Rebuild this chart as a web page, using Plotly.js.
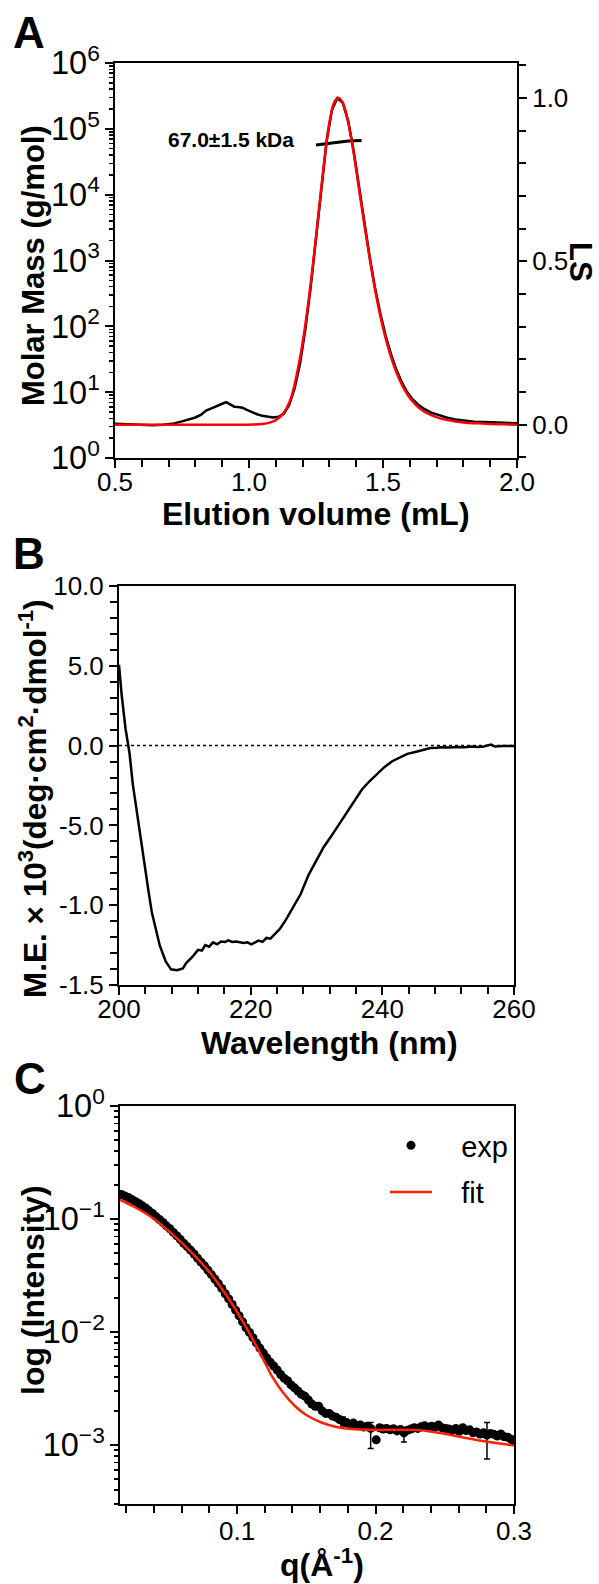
<!DOCTYPE html>
<html><head><meta charset="utf-8">
<script src="https://cdn.plot.ly/plotly-3.0.1.min.js"></script>
<style>html,body{margin:0;padding:0;background:#fff;}#chart{width:599px;height:1584px;}</style>
</head><body><div id="chart"></div>
<script>
// ---------- Panel A: SEC-MALS ----------
const elutionVolLS = [0.50,0.55,0.60,0.64,0.68,0.72,0.75,0.78,0.80,0.82,0.84,0.86,0.88,0.90,0.915,0.93,0.945,0.96,0.975,0.99,1.01,1.03,1.05,1.07,1.09,1.11,1.13,1.15,1.17,1.19,1.21,1.23,1.25,1.27,1.29,1.31,1.33,1.35,1.37,1.39,1.41,1.43,1.45,1.47,1.49,1.51,1.53,1.55,1.57,1.59,1.61,1.63,1.65,1.68,1.71,1.74,1.77,1.80,1.84,1.88,1.92,1.96,2.00];
const lsSignal = [0.003,0.002,0.001,-0.002,0.000,0.004,0.010,0.018,0.022,0.030,0.043,0.050,0.058,0.064,0.069,0.062,0.055,0.054,0.052,0.046,0.038,0.032,0.027,0.024,0.022,0.024,0.033,0.060,0.110,0.185,0.290,0.420,0.570,0.730,0.870,0.965,1.000,0.985,0.930,0.840,0.730,0.620,0.515,0.420,0.340,0.272,0.215,0.168,0.130,0.100,0.078,0.062,0.050,0.037,0.028,0.021,0.016,0.012,0.009,0.008,0.007,0.005,0.004];
const elutionVolFit = [0.50,0.70,0.90,1.00,1.05,1.08,1.10,1.12,1.14,1.16,1.18,1.20,1.22,1.24,1.26,1.28,1.30,1.32,1.335,1.35,1.37,1.39,1.41,1.43,1.45,1.47,1.49,1.51,1.53,1.55,1.57,1.59,1.61,1.63,1.65,1.68,1.71,1.74,1.77,1.80,1.85,1.90,1.95,2.00];
const lsFit = [0.000,0.000,0.000,0.000,0.002,0.007,0.014,0.027,0.050,0.090,0.160,0.250,0.365,0.500,0.650,0.800,0.925,0.990,1.000,0.985,0.925,0.835,0.725,0.615,0.510,0.415,0.333,0.264,0.207,0.160,0.123,0.094,0.072,0.055,0.042,0.029,0.020,0.014,0.010,0.007,0.004,0.002,0.001,0.000];
const elutionVolMM = [1.25,1.27,1.29,1.31,1.33,1.35,1.37,1.39,1.42];
const molarMass = [56600,58000,60000,62000,63500,64500,65500,66000,66500];
const massLabel = '67.0±1.5 kDa';

// ---------- Panel B: CD spectrum ----------
const wavelength = [200,200.4,201,201.6,202.1,202.7,203.3,203.9,204.5,205,205.6,206.2,207.1,207.9,208.8,209.7,210.2,211.1,212,212.6,213.1,213.7,214.3,214.9,215.5,216.1,216.6,217.2,217.8,218.4,218.9,219.5,220.1,220.6,221.2,221.8,222.4,223,223.6,224.4,225.3,226.4,227.6,228.8,229.9,231.1,232.2,233.4,234.5,235.7,236.9,238,239.2,240.3,241.5,242.7,243.8,245,246.1,247.3,248.2,249,250.2,251.3,252.5,253.6,254.5,255.4,256.5,257.1,258.3,259.2,260];
const meanEllipticity = [5.07,3.2,1.04,-0.48,-2.43,-4.17,-5.9,-7.65,-9.17,-10.48,-11.57,-12.54,-13.52,-14.02,-14.07,-13.96,-13.63,-13.26,-12.8,-12.85,-12.5,-12.6,-12.33,-12.45,-12.28,-12.3,-12.2,-12.3,-12.28,-12.35,-12.37,-12.33,-12.45,-12.35,-12.22,-12.3,-12.05,-12.1,-11.85,-11.5,-10.95,-10.2,-9.3,-8.1,-7.25,-6.35,-5.7,-4.95,-4.2,-3.45,-2.75,-2.25,-1.8,-1.35,-0.98,-0.72,-0.52,-0.4,-0.3,-0.15,-0.13,-0.1,-0.12,-0.08,-0.1,-0.06,-0.08,-0.05,0.06,-0.06,-0.02,-0.03,-0.02];
const zeroLineX = [200,260];
const zeroLineY = [0,0];
const cdTickVals = [10,5,0,-5,-10,-15];
const cdTickText = ['10.0','5.0','0.0','-5.0','-1.0','-1.5'];

// ---------- Panel C: SAXS ----------
const qExp = [0.0165,0.019,0.0215,0.024,0.0265,0.029,0.0315,0.034,0.0365,0.039,0.0415,0.044,0.0465,0.049,0.0515,0.054,0.0565,0.059,0.0615,0.064,0.0665,0.069,0.0715,0.074,0.0765,0.079,0.0815,0.084,0.0865,0.089,0.0915,0.094,0.0965,0.099,0.1015,0.104,0.1065,0.109,0.1115,0.114,0.1165,0.119,0.1215,0.124,0.1265,0.129,0.1315,0.134,0.1365,0.139,0.1415,0.144,0.1465,0.149,0.1515,0.154,0.1565,0.159,0.1615,0.164,0.1665,0.169,0.1715,0.174,0.1765,0.179,0.1815,0.184,0.1865,0.189,0.1915,0.194,0.1965,0.2005,0.203,0.2055,0.208,0.2105,0.213,0.2155,0.218,0.2205,0.223,0.2255,0.228,0.2305,0.233,0.2355,0.238,0.2405,0.243,0.2455,0.248,0.2505,0.253,0.2555,0.258,0.2605,0.263,0.2655,0.268,0.2705,0.273,0.2755,0.278,0.2805,0.283,0.2855,0.288,0.2905,0.293,0.2955,0.298,0.2995];
const intensityExp = [0.165,0.160,0.155,0.149,0.143,0.137,0.131,0.125,0.118,0.112,0.105,0.099,0.093,0.087,0.082,0.076,0.071,0.066,0.061,0.057,0.053,0.049,0.045,0.0415,0.0385,0.0352,0.0322,0.0294,0.0268,0.0243,0.0218,0.0196,0.0175,0.0156,0.0139,0.0123,0.0109,0.0099,0.0089,0.0080,0.0072,0.0065,0.0059,0.0054,0.0050,0.0046,0.0042,0.0039,0.0037,0.0034,0.0032,0.0030,0.0028,0.0027,0.0025,0.0023,0.0022,0.0022,0.0020,0.0019,0.0019,0.0018,0.00176,0.00168,0.00162,0.00158,0.00152,0.00156,0.00148,0.00150,0.00144,0.00146,0.00140,0.00111,0.00142,0.00138,0.00140,0.00136,0.00139,0.00133,0.00137,0.00128,0.00135,0.00138,0.00142,0.00140,0.00145,0.00148,0.00143,0.00146,0.00144,0.00150,0.00142,0.00140,0.00138,0.00135,0.00140,0.00132,0.00142,0.00134,0.00136,0.00128,0.00130,0.00125,0.00128,0.00122,0.00126,0.00124,0.00120,0.00125,0.00118,0.00117,0.00112,0.00108];
const errPlus = [0,0,0,0,0,0,0,0,0,0,0,0,0,0,0,0,0,0,0,0,0,0,0,0,0,0,0,0,0,0,0,0,0,0,0,0,0,0,0,0,0,0,0,0,0,0,0,0,0,0,0,0,0,0,0,0,0,0,0,0,0,0,0,0,0.00015,0.00005,0.00005,0.00005,0.00005,0.00005,0.00005,0.00005,0.00018,0.00005,0.00005,0.00005,0.00006,0.00005,0.00006,0.00005,0.00005,0.0001,0.00005,0.00005,0.00005,0.00005,0.00005,0.00005,0.00005,0.00005,0.00005,0.00005,0.00005,0.00005,0.00005,0.00005,0.00005,0.00005,0.00005,0.00005,0.00005,0.00005,0.00005,0.00005,0.00005,0.00036,0.00005,0.00005,0.00005,0.00005,0.00005,0.00005,0.00005,0.00005];
const errMinus = [0,0,0,0,0,0,0,0,0,0,0,0,0,0,0,0,0,0,0,0,0,0,0,0,0,0,0,0,0,0,0,0,0,0,0,0,0,0,0,0,0,0,0,0,0,0,0,0,0,0,0,0,0,0,0,0,0,0,0,0,0,0,0,0,0.00015,0.00005,0.00005,0.00005,0.00005,0.00005,0.00005,0.00005,0.00047,0.00005,0.00005,0.00005,0.00006,0.00005,0.00006,0.00005,0.00005,0.00022,0.00005,0.00005,0.00005,0.00005,0.00005,0.00005,0.00005,0.00005,0.00005,0.00005,0.00005,0.00005,0.00005,0.00005,0.00005,0.00005,0.00005,0.00005,0.00005,0.00005,0.00005,0.00005,0.00005,0.00047,0.00005,0.00005,0.00005,0.00005,0.00005,0.00005,0.00005,0.00005];
const qFit = [0.0154,0.0264,0.0401,0.0538,0.0676,0.0813,0.0951,0.1033,0.1115,0.1198,0.1253,0.1335,0.1418,0.150,0.161,0.172,0.183,0.1995,0.216,0.2324,0.2489,0.2654,0.2819,0.2997];
const intensityFit = [0.148,0.127,0.100,0.0724,0.0498,0.0324,0.0188,0.0129,0.00855,0.00545,0.00404,0.00288,0.00221,0.00184,0.00158,0.00144,0.00138,0.00136,0.00136,0.00135,0.00126,0.00115,0.00106,0.00099];
const legendNames = ['exp','fit'];

// ---------- layout helpers ----------
const W = 599, H = 1584;
const FONT = '"Liberation Sans", Arial, Helvetica, sans-serif';
const TICK = 26;
const fx = (a,b) => [a/W, b/W];
const fy = (top,bottom) => [1-bottom/H, 1-top/H];
const px = v => v/W, py = v => 1 - v/H;
const pad = '\u00a0\u00a0\u00a0';

const common = {
  showgrid:false, zeroline:false, showline:true, linewidth:2, linecolor:'#000',
  ticks:'outside', ticklen:8, tickwidth:2, tickcolor:'#000',
  tickfont:{family:FONT, size:TICK, color:'#000'}
};
const minorLin = (d, t0) => ({tickmode:'linear', tick0:t0, dtick:d, ticks:'outside', ticklen:7, tickwidth:2, tickcolor:'#000', showgrid:false});
const minorLog = {dtick:'D1', ticks:'outside', ticklen:4, tickwidth:1.5, tickcolor:'#000', showgrid:false};

const traces = [
  {x:elutionVolMM, y:molarMass, xaxis:'x', yaxis:'y', mode:'lines', line:{color:'#000', width:3}, showlegend:false},
  {x:elutionVolLS, y:lsSignal, xaxis:'x', yaxis:'y2', mode:'lines', line:{color:'#000', width:2.5}, showlegend:false},
  {x:elutionVolFit, y:lsFit, xaxis:'x', yaxis:'y2', mode:'lines', line:{color:'#ff0000', width:2.5, shape:'spline'}, showlegend:false},
  {x:zeroLineX, y:zeroLineY, xaxis:'x2', yaxis:'y3', mode:'lines', line:{color:'#000', width:1.5, dash:'dot'}, showlegend:false},
  {x:wavelength, y:meanEllipticity, xaxis:'x2', yaxis:'y3', mode:'lines', line:{color:'#000', width:2.5}, showlegend:false},
  {x:qExp, y:intensityExp, xaxis:'x3', yaxis:'y4', mode:'markers', name:pad+legendNames[0], legendgroup:'g1',
   marker:{color:'#000', size:9},
   error_y:{type:'data', symmetric:false, array:errPlus, arrayminus:errMinus, color:'#000', thickness:1.5, width:3}},
  {x:qFit, y:intensityFit, xaxis:'x3', yaxis:'y4', mode:'lines', name:pad+legendNames[1], legendgroup:'g2', line:{color:'#ff2200', width:2.5, shape:'spline'}}
];

const layout = {
  width:W, height:H, margin:{l:0,r:0,t:0,b:0}, paper_bgcolor:'#fff', plot_bgcolor:'#fff',
  font:{family:FONT, color:'#000'},
  showlegend:true,
  legend:{x:px(385), y:py(1120), xanchor:'left', yanchor:'top', bgcolor:'rgba(0,0,0,0)', borderwidth:0,
          font:{family:FONT, size:29, color:'#000'}, itemwidth:42, tracegroupgap:6},
  xaxis:Object.assign({}, common, {domain:fx(115,517), anchor:'y', range:[0.5,2.0], tick0:0.5, dtick:0.5, tickformat:'.1f', mirror:true, ticklabelstandoff:-8, minor:minorLin(0.1,0.5)}),
  yaxis:Object.assign({}, common, {domain:fy(63,458), anchor:'x', type:'log', range:[0,6], tick0:0, dtick:1, exponentformat:'power',
          labelalias:{'1':'10<sup>0</sup>','10':'10<sup>1</sup>'}, minor:minorLog}),
  yaxis2:Object.assign({}, common, {overlaying:'y', side:'right', anchor:'x', range:[-0.102,1.107], tick0:0, dtick:0.5, tickformat:'.1f', minor:minorLin(0.1,0)}),
  xaxis2:Object.assign({}, common, {domain:fx(119,514), anchor:'y3', range:[200,260], tick0:200, dtick:20, mirror:true, ticklabelstandoff:-8, minor:minorLin(4,200)}),
  yaxis3:Object.assign({}, common, {domain:fy(586,985), anchor:'x2', range:[-15,10], tickmode:'array', tickvals:cdTickVals, ticktext:cdTickText, mirror:true, minor:minorLin(1,0)}),
  xaxis3:Object.assign({}, common, {domain:fx(120,514), anchor:'y4', range:[0.0155,0.3], tick0:0, dtick:0.1, tickformat:'.1f', mirror:true, ticklabelstandoff:-5, minor:minorLin(0.02,0)}),
  yaxis4:Object.assign({}, common, {domain:fy(1106,1504), anchor:'x3', type:'log', range:[Math.log10(3e-4),0], tick0:0, dtick:1, exponentformat:'power',
          labelalias:{'1':'10<sup>0</sup>'}, mirror:true, minor:minorLog}),
  annotations:[
    {text:'<b>A</b>', x:px(29), y:py(32)},
    {text:'<b>B</b>', x:px(29), y:py(554)},
    {text:'<b>C</b>', x:px(30), y:py(1078)},
    {text:'<b>Molar Mass (g/mol)</b>', x:px(33), y:py(266), textangle:-90, size:31},
    {text:'<b>Elution volume (mL)</b>', x:px(316), y:py(514), size:32},
    {text:'<b>LS</b>', x:px(581), y:py(262), textangle:90, size:31},
    {text:'<b>'+massLabel+'</b>', x:px(166), y:py(139), size:21, xanchor:'left'},
    {text:'<b>M.E. × 10<sup>3</sup>(deg·cm<sup>2</sup>·dmol<sup>-1</sup>)</b>', x:px(33), y:py(799), textangle:-90, size:31.5},
    {text:'<b>Wavelength (nm)</b>', x:px(329), y:py(1043), size:32},
    {text:'<b>log (Intensity)</b>', x:px(33), y:py(1290), textangle:-90, size:32},
    {text:'<b>q(Å<sup>-1</sup>)</b>', x:px(322), y:py(1563), size:32}
  ].map(a => ({text:a.text, x:a.x, y:a.y, xref:'paper', yref:'paper', showarrow:false,
               xanchor:a.xanchor||'center', yanchor:'middle', textangle:a.textangle||0,
               font:{family:FONT, size:a.size||44, color:'#000'}}))
};

Plotly.newPlot('chart', traces, layout, {staticPlot:true, displayModeBar:false});
</script>
</body></html>
